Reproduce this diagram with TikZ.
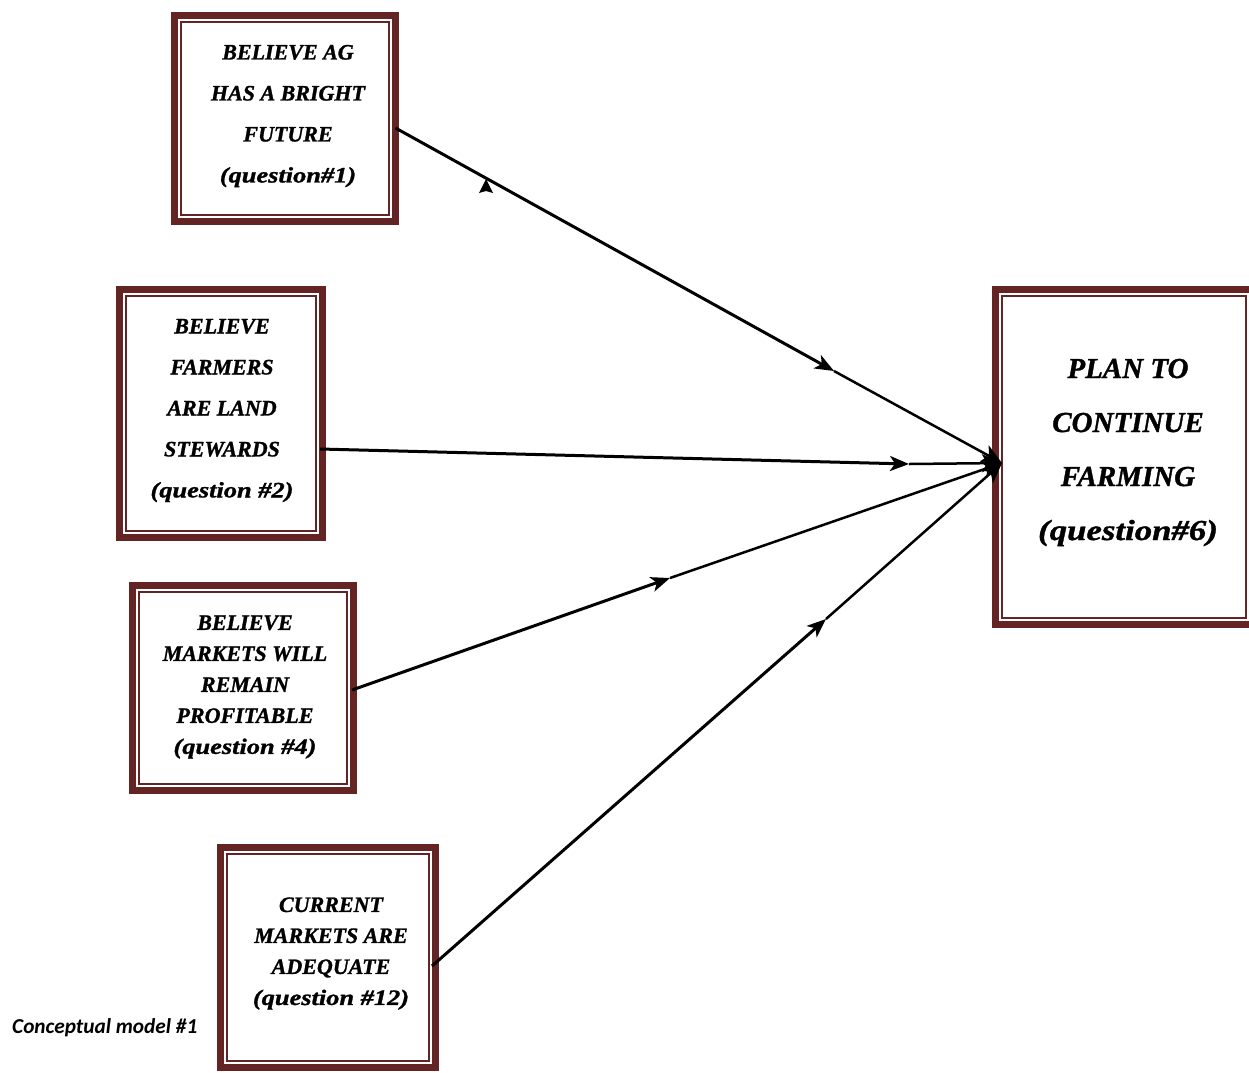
\documentclass[tikz,border=0pt]{standalone}
\usepackage{fontspec}
\newfontfamily\boxfont{Liberation Serif}[FakeBold=1.2]
\newfontfamily\qfont{Liberation Serif}[FakeStretch=1.2,FakeBold=1.2]
\newfontfamily\capfont{Carlito}
\usetikzlibrary{arrows.meta}
\definecolor{dred}{RGB}{99,36,35}
\tikzset{
  framebox/.style={draw=dred, line width=7pt, rectangle, outer sep=0pt, inner sep=0pt, fill=white},
  txtA/.style={align=center, font=\boxfont\fontsize{22}{41}\selectfont\bfseries\itshape, inner sep=0pt},
  txtB/.style={align=center, font=\boxfont\fontsize{22}{31}\selectfont\bfseries\itshape, inner sep=0pt},
  txtC/.style={align=center, font=\boxfont\fontsize{29}{54}\selectfont\bfseries\itshape, inner sep=0pt},
  linkA/.style={line width=3pt, -{Stealth[length=19pt,width=15pt,inset=5pt]}},
  linkB/.style={line width=2.5pt, -{Stealth[length=20pt,width=18pt,inset=5pt]}},
}
\newcommand{\innerframe}[1]{%
  \draw[dred, line width=2pt] ([shift={(6.5,6.5)}]#1.north west) rectangle ([shift={(-6.5,-6.5)}]#1.south east);}
\newcommand{\qq}[1]{{\qfont\bfseries\itshape #1}}
\begin{document}
\begin{tikzpicture}[x=1pt,y=-1pt]
\useasboundingbox (0,0) rectangle (1249,1072);
\fill[white] (0,0) rectangle (1249,1072);
% boxes
\node[framebox, minimum width=221pt, minimum height=206pt] (b1) at (285,118.5) {};
\node[framebox, minimum width=203pt, minimum height=248pt] (b2) at (221,413.5) {};
\node[framebox, minimum width=221pt, minimum height=205pt] (b3) at (243,688) {};
\node[framebox, minimum width=215pt, minimum height=220pt] (b4) at (328,957.5) {};
\node[framebox, minimum width=257pt, minimum height=335pt] (b5) at (1124,457) {};
\innerframe{b1}\innerframe{b2}\innerframe{b3}\innerframe{b4}\innerframe{b5}
% texts
\node[txtA] (t1) at (288,116) {BELIEVE AG\\HAS A BRIGHT\\FUTURE\\\qq{(question\#1)}};
\node[txtA] (t2) at (222,410.5) {BELIEVE\\FARMERS\\ARE LAND\\STEWARDS\\\qq{(question \#2)}};
\node[txtB] (t3) at (245,687) {BELIEVE\\MARKETS WILL\\REMAIN\\PROFITABLE\\\qq{(question \#4)}};
\node[txtB] (t4) at (331,953.5) {CURRENT\\MARKETS ARE\\ADEQUATE\\\qq{(question \#12)}};
\node[txtC] (t5) at (1128,452.5) {PLAN TO\\CONTINUE\\FARMING\\\qq{(question\#6)}};
\node[font=\capfont\fontsize{21.3}{24}\selectfont\bfseries\itshape, anchor=west, inner sep=0pt] (cap) at (12,1028) {Conceptual model \#1};
% connector points
\coordinate (m1) at (834,371);
\coordinate (m2) at (909,464);
\coordinate (m3) at (670,578);
\coordinate (m4) at (826,619);
\coordinate (tg) at (1002,463);
% connectors
\draw[linkA] ([yshift=-9.5pt]b1.east) -- (m1);
\draw[linkB] (m1) -- (tg);
\draw[linkA] ([shift={(-2.5,35.5)}]b2.east) -- (m2);
\draw[linkB] (m2) -- (tg);
\draw[linkA] ([shift={(-1.5,2)}]b3.east) -- (m3);
\draw[linkB] (m3) -- (tg);
\draw[linkA] ([shift={(-3.5,8.5)}]b4.east) -- (m4);
\draw[linkB] (m4) -- (tg);
% stray triangle
\fill (486,179) -- (493,193) -- (486,191) -- (479,193) -- cycle;
\end{tikzpicture}
\end{document}
